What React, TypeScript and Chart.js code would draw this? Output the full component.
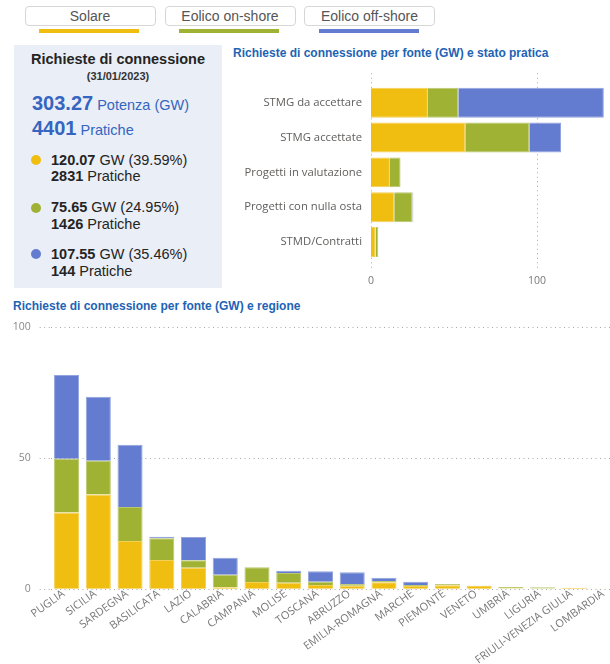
import React, { useEffect, useRef } from "react";
import { Chart, registerables } from "chart.js";

Chart.register(...registerables);

// ---- Data ----
const SERIES_NAMES = ["Solare", "Eolico on-shore", "Eolico off-shore"];
const SERIES_COLORS = ["#F0BE10", "#A0B234", "#637CCF"];
const SERIES_EDGES = ["#F4CF55", "#BAC76E", "#93A4DE"];

const totalGW = "303.27";
const totalPratiche = "4401";
const summaryGW = ["120.07", "75.65", "107.55"];
const summaryPct = ["39.59%", "24.95%", "35.46%"];
const summaryPratiche = ["2831", "1426", "144"];

const STATI = [
  "STMG da accettare",
  "STMG accettate",
  "Progetti in valutazione",
  "Progetti con nulla osta",
  "STMD/Contratti",
];
const statoSolare = [34.3, 56.8, 11.4, 14.0, 2.8];
const statoOnshore = [18.3, 38.6, 6.4, 11.0, 1.6];
const statoOffshore = [87.7, 19.1, 0, 0.5, 0];
const statoTicks = [0, 100];

const REGIONI = [
  "PUGLIA", "SICILIA", "SARDEGNA", "BASILICATA", "LAZIO", "CALABRIA",
  "CAMPANIA", "MOLISE", "TOSCANA", "ABRUZZO", "EMILIA-ROMAGNA", "MARCHE",
  "PIEMONTE", "VENETO", "UMBRIA", "LIGURIA", "FRIULI-VENEZIA GIULIA", "LOMBARDIA",
];
const regSolare = [29.3, 36.1, 18.4, 11.2, 8.2, 0.8, 2.8, 2.5, 1.6, 1.4, 2.7, 1.3, 1.5, 1.3, 0.4, 0.3, 0.6, 0.3];
const regOnshore = [20.5, 12.9, 13.0, 8.3, 2.9, 4.7, 5.6, 3.7, 1.3, 0.6, 0.5, 0.3, 0.5, 0.1, 0.5, 0.5, 0, 0];
const regOffshore = [31.9, 24.4, 23.7, 0.5, 8.8, 6.5, 0, 0.9, 4.0, 4.5, 1.2, 1.3, 0, 0, 0, 0, 0, 0];
const regioneTicks = [0, 50, 100];

// ---- Styling constants ----
const TICK_FONT = "'Open Sans', 'Noto Sans', sans-serif";
const UI_FONT = "'Liberation Sans', Arial, sans-serif";
const GRID_COLOR = "#a8a8a8";

const extendedGrid = {
  id: "extGrid",
  beforeDatasetsDraw(chart: any, _args: any, opts: any) {
    if (!opts || !opts.ext) return;
    const { ctx, chartArea, scales } = chart;
    const xs = scales.x;
    ctx.save();
    ctx.strokeStyle = GRID_COLOR;
    ctx.lineWidth = 1;
    ctx.setLineDash([1, 3.5]);
    xs.ticks.forEach((t: any) => {
      const px = Math.round(xs.getPixelForValue(t.value)) + 0.5;
      ctx.beginPath();
      ctx.moveTo(px, chartArea.top - opts.ext);
      ctx.lineTo(px, chartArea.bottom + opts.ext);
      ctx.stroke();
    });
    ctx.restore();
  },
};

function makeDatasets(values: number[][]) {
  return values.map((v, i) => ({
    label: SERIES_NAMES[i],
    data: v,
    backgroundColor: SERIES_COLORS[i],
    borderColor: SERIES_EDGES[i],
    borderWidth: 1,
    borderSkipped: "start" as any,
  }));
}

function StatoChart() {
  const ref = useRef<HTMLCanvasElement>(null);
  useEffect(() => {
    if (!ref.current) return;
    const chart = new Chart(ref.current, {
      type: "bar",
      data: {
        labels: STATI,
        datasets: makeDatasets([statoSolare, statoOnshore, statoOffshore]) as any,
      },
      plugins: [extendedGrid as any],
      options: {
        indexAxis: "y",
        animation: false,
        responsive: false,
        maintainAspectRatio: false,
        categoryPercentage: 0.86,
        barPercentage: 1,
        layout: { padding: { top: 25.3, right: 5, left: 0, bottom: 0 } },
        plugins: {
          legend: { display: false },
          tooltip: { enabled: false },
          extGrid: { ext: 12 },
        } as any,
        scales: {
          x: {
            stacked: true,
            min: 0,
            max: 141,
            grid: { display: false, drawTicks: false },
            border: { display: false },
            afterBuildTicks: (s: any) => {
              s.ticks = statoTicks.map((v) => ({ value: v }));
            },
            afterFit: (s: any) => {
              s.height = 35.6;
              s.paddingLeft = 0;
              s.paddingRight = 0;
            },
            ticks: {
              padding: 15,
              color: "#777",
              font: { family: TICK_FONT, size: 10.5 },
            },
          },
          y: {
            stacked: true,
            grid: { display: false, drawTicks: false },
            border: { display: false },
            afterFit: (s: any) => {
              s.width = 141;
              s.paddingTop = 0;
              s.paddingBottom = 0;
            },
            ticks: {
              padding: 9,
              color: "#605E5C",
              font: { family: TICK_FONT, size: 11.3 },
            },
          },
        },
      },
    });
    return () => chart.destroy();
  }, []);
  return (
    <canvas
      ref={ref}
      width={380}
      height={235}
      style={{ position: "absolute", left: 230, top: 60, width: 380, height: 235 }}
    />
  );
}

function RegioneChart() {
  const ref = useRef<HTMLCanvasElement>(null);
  useEffect(() => {
    if (!ref.current) return;
    const chart = new Chart(ref.current, {
      type: "bar",
      data: {
        labels: REGIONI,
        datasets: makeDatasets([regSolare, regOnshore, regOffshore]) as any,
      },
      options: {
        animation: false,
        responsive: false,
        maintainAspectRatio: false,
        categoryPercentage: 0.79,
        barPercentage: 1,
        layout: { padding: { top: 9, right: 0, left: 0, bottom: 0 } },
        plugins: {
          legend: { display: false },
          tooltip: { enabled: false },
        },
        scales: {
          x: {
            stacked: true,
            grid: { display: false, drawTicks: false },
            border: { display: false },
            afterFit: (s: any) => {
              s.height = 74.7;
              s.paddingLeft = 0;
              s.paddingRight = 0;
            },
            ticks: {
              autoSkip: false,
              minRotation: 36,
              maxRotation: 36,
              padding: -2,
              labelOffset: -3,
              color: "#777",
              font: { family: TICK_FONT, size: 11 },
            },
          },
          y: {
            stacked: true,
            min: 0,
            max: 100,
            afterBuildTicks: (s: any) => {
              s.ticks = regioneTicks.map((v) => ({ value: v }));
            },
            grid: {
              color: GRID_COLOR,
              lineWidth: 1,
              drawTicks: true,
              tickLength: 11,
              tickColor: GRID_COLOR,
              tickBorderDash: [1, 3.5],
            } as any,
            border: { display: false, dash: [1, 3.5] },
            afterFit: (s: any) => {
              s.width = 50.7;
              s.paddingTop = 0;
              s.paddingBottom = 0;
            },
            ticks: {
              padding: 9,
              color: "#888",
              font: { family: TICK_FONT, size: 10.5 },
            },
          },
        },
      },
    });
    return () => chart.destroy();
  }, []);
  return (
    <canvas
      ref={ref}
      width={622}
      height={346}
      style={{ position: "absolute", left: 0, top: 318, width: 622, height: 346 }}
    />
  );
}

const abs = (o: React.CSSProperties): React.CSSProperties => ({ position: "absolute", ...o });

export default function App() {
  const legendLefts = [24.5, 164.5, 304];
  const summaryTops = [160, 207.7, 254.3];
  return (
    <div
      style={{
        position: "fixed",
        left: 0,
        top: 0,
        width: 610,
        height: 664,
        overflow: "hidden",
        background: "#ffffff",
        fontFamily: UI_FONT,
      }}
    >
      {/* Legend buttons */}
      {SERIES_NAMES.map((name, i) => (
        <React.Fragment key={name}>
          <div
            style={abs({
              left: legendLefts[i],
              top: 6,
              width: 131,
              height: 20,
              boxSizing: "border-box",
              border: "1px solid #d6d6d6",
              borderRadius: 4,
              background: "#fff",
              color: "#555",
              fontSize: 14,
              lineHeight: "18px",
              textAlign: "center",
            })}
          >
            {name}
          </div>
          <div
            style={abs({
              left: legendLefts[i] + 14.5,
              top: 29,
              width: 100,
              height: 4,
              background: SERIES_COLORS[i],
            })}
          />
        </React.Fragment>
      ))}

      {/* Summary panel */}
      <div style={abs({ left: 14, top: 45, width: 208, height: 243, background: "#E9EEF7" })} />
      <div
        style={abs({
          left: 14,
          top: 50.8,
          width: 208,
          textAlign: "center",
          fontWeight: "bold",
          fontSize: 14.5,
          lineHeight: "17px",
          color: "#252423",
        })}
      >
        Richieste di connessione
      </div>
      <div
        style={abs({
          left: 14,
          top: 69.5,
          width: 208,
          textAlign: "center",
          fontWeight: "bold",
          fontSize: 11,
          lineHeight: "13px",
          color: "#333",
        })}
      >
        (31/01/2023)
      </div>
      <div style={abs({ left: 32, top: 91.3, lineHeight: "24px", color: "#3565C0", whiteSpace: "nowrap" })}>
        <span style={{ fontWeight: "bold", fontSize: 20 }}>{totalGW}</span>
        <span style={{ fontSize: 14.5 }}> Potenza (GW)</span>
      </div>
      <div style={abs({ left: 32, top: 116.3, lineHeight: "24px", color: "#3565C0", whiteSpace: "nowrap" })}>
        <span style={{ fontWeight: "bold", fontSize: 20 }}>{totalPratiche}</span>
        <span style={{ fontSize: 14.5 }}> Pratiche</span>
      </div>
      {summaryTops.map((cy, i) => (
        <React.Fragment key={i}>
          <div
            style={abs({
              left: 31,
              top: cy - 5,
              width: 10,
              height: 10,
              borderRadius: 5,
              background: SERIES_COLORS[i],
            })}
          />
          <div
            style={abs({
              left: 51,
              top: cy - 8.5,
              fontSize: 14.5,
              lineHeight: "17px",
              color: "#252423",
              whiteSpace: "nowrap",
            })}
          >
            <b>{summaryGW[i]}</b> GW ({summaryPct[i]})
          </div>
          <div
            style={abs({
              left: 51,
              top: cy + 8.2,
              fontSize: 14.5,
              lineHeight: "17px",
              color: "#252423",
              whiteSpace: "nowrap",
            })}
          >
            <b>{summaryPratiche[i]}</b> Pratiche
          </div>
        </React.Fragment>
      ))}

      {/* Titles */}
      <div
        style={abs({
          left: 233,
          top: 46.3,
          fontSize: 12,
          lineHeight: "14px",
          fontWeight: "bold",
          color: "#1E63B4",
          whiteSpace: "nowrap",
        })}
      >
        Richieste di connessione per fonte (GW) e stato pratica
      </div>
      <div
        style={abs({
          left: 13,
          top: 299,
          fontSize: 12,
          lineHeight: "14px",
          fontWeight: "bold",
          color: "#1E63B4",
          whiteSpace: "nowrap",
        })}
      >
        Richieste di connessione per fonte (GW) e regione
      </div>

      <StatoChart />
      <RegioneChart />
    </div>
  );
}
